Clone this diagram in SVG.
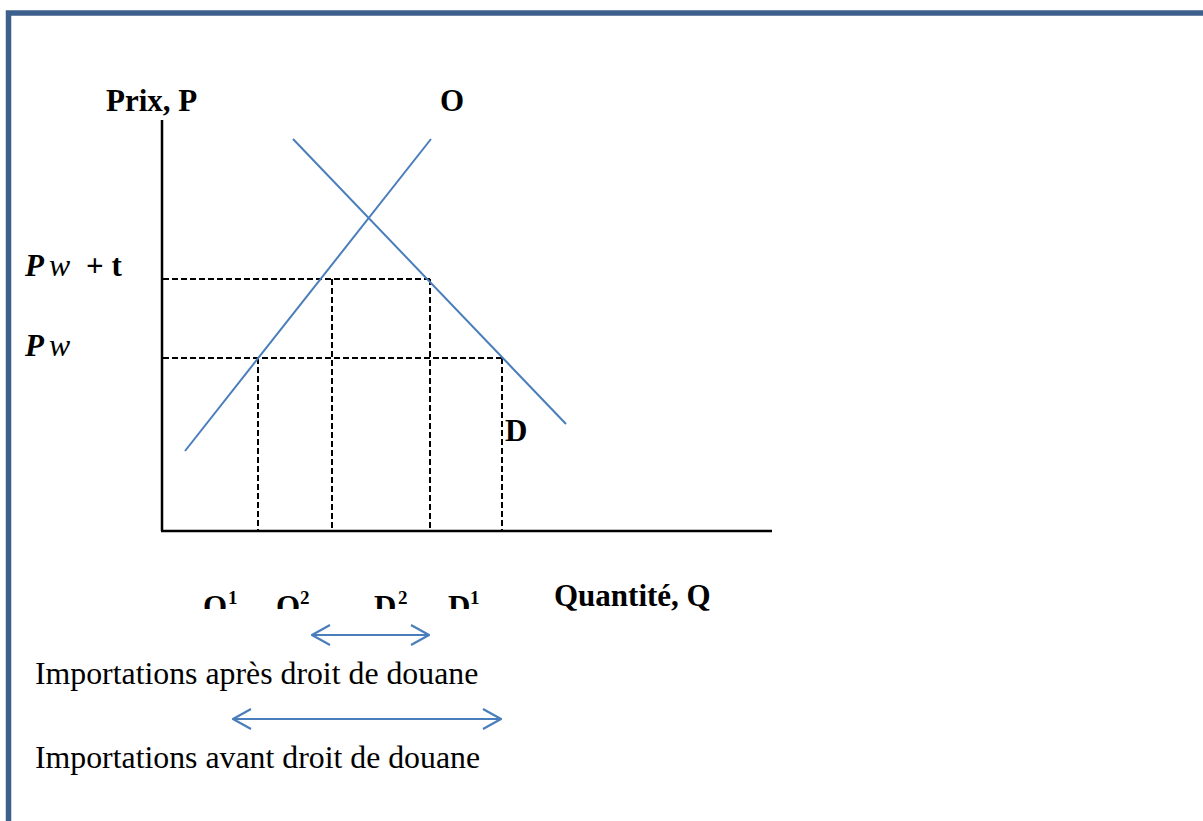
<svg xmlns="http://www.w3.org/2000/svg" width="1203" height="821" viewBox="0 0 1203 821">
<style>
.b{font-family:"Liberation Serif","Times New Roman",serif;font-weight:bold;font-size:31px;fill:#000}
.r{font-family:"Liberation Serif","Times New Roman",serif;font-size:31.8px;fill:#000}
.sup{font-size:19px}
.curve{stroke:#4a7ebb;stroke-width:2;fill:none}
.dash{stroke:#000;stroke-width:2;stroke-dasharray:6,3;fill:none}
.axis{stroke:#000;stroke-width:2.5;fill:none}
.arr{stroke:#4a7ebb;stroke-width:2.2;fill:none}
</style>
<defs>
<marker id="ah" viewBox="0 0 20 22" refX="19" refY="11" markerWidth="20" markerHeight="22" markerUnits="userSpaceOnUse" orient="auto-start-reverse">
<path d="M1,1 L19,11 L1,21" fill="none" stroke="#4a7ebb" stroke-width="2.2"/>
</marker>
<clipPath id="cl"><rect x="0" y="0" width="1203" height="609"/></clipPath>
</defs>
<rect x="8.5" y="13" width="1300" height="900" fill="#fff" stroke="#3d5f8b" stroke-width="5.5"/>
<g id="axes">
<line class="axis" x1="162" y1="120" x2="162" y2="531"/>
<line class="axis" x1="161" y1="531" x2="772" y2="531"/>
</g>
<g id="guides">
<line class="dash" x1="163" y1="279" x2="430" y2="279"/>
<line class="dash" x1="163" y1="358" x2="502" y2="358"/>
<line class="dash" x1="258" y1="358" x2="258" y2="531"/>
<line class="dash" x1="332" y1="279" x2="332" y2="531"/>
<line class="dash" x1="430" y1="279" x2="430" y2="531"/>
<line class="dash" x1="502" y1="358" x2="502" y2="531"/>
</g>
<g id="offre"><line class="curve" x1="185" y1="451" x2="431" y2="139"/></g>
<g id="demande"><line class="curve" x1="293" y1="139" x2="566" y2="424"/></g>
<g id="labels">
<text class="b" x="106" y="111">Prix, P</text>
<text class="b" x="440" y="111">O</text>
<text class="b" x="505" y="441">D</text>
<g id="pwt">
<text class="b" x="25" y="276" font-style="italic" font-size="33">P</text>
<text class="r" x="49" y="276" font-style="italic" font-size="30">w</text>
<text class="b" x="86" y="276">+ t</text>
</g>
<g id="pw">
<text class="b" x="25" y="356" font-style="italic" font-size="33">P</text>
<text class="r" x="49" y="356" font-style="italic" font-size="30">w</text>
</g>
<text class="b" x="554" y="606">Quantité, Q</text>
<g clip-path="url(#cl)">
<text class="b" x="203" y="617">O</text><text class="b sup" x="228" y="604">1</text>
<text class="b" x="276" y="617">O</text><text class="b sup" x="300" y="604">2</text>
<text class="b" x="374" y="617">D</text><text class="b sup" x="398" y="604">2</text>
<text class="b" x="448" y="617">D</text><text class="b sup" x="470" y="604">1</text>
</g>
<text class="r" x="35" y="684">Importations après droit de douane</text>
<text class="r" x="35" y="768">Importations avant droit de douane</text>
</g>
<g id="connectors">
<line class="arr" x1="312" y1="635" x2="429" y2="635" marker-start="url(#ah)" marker-end="url(#ah)"/>
<line class="arr" x1="233" y1="719" x2="501" y2="719" marker-start="url(#ah)" marker-end="url(#ah)"/>
</g>
</svg>
